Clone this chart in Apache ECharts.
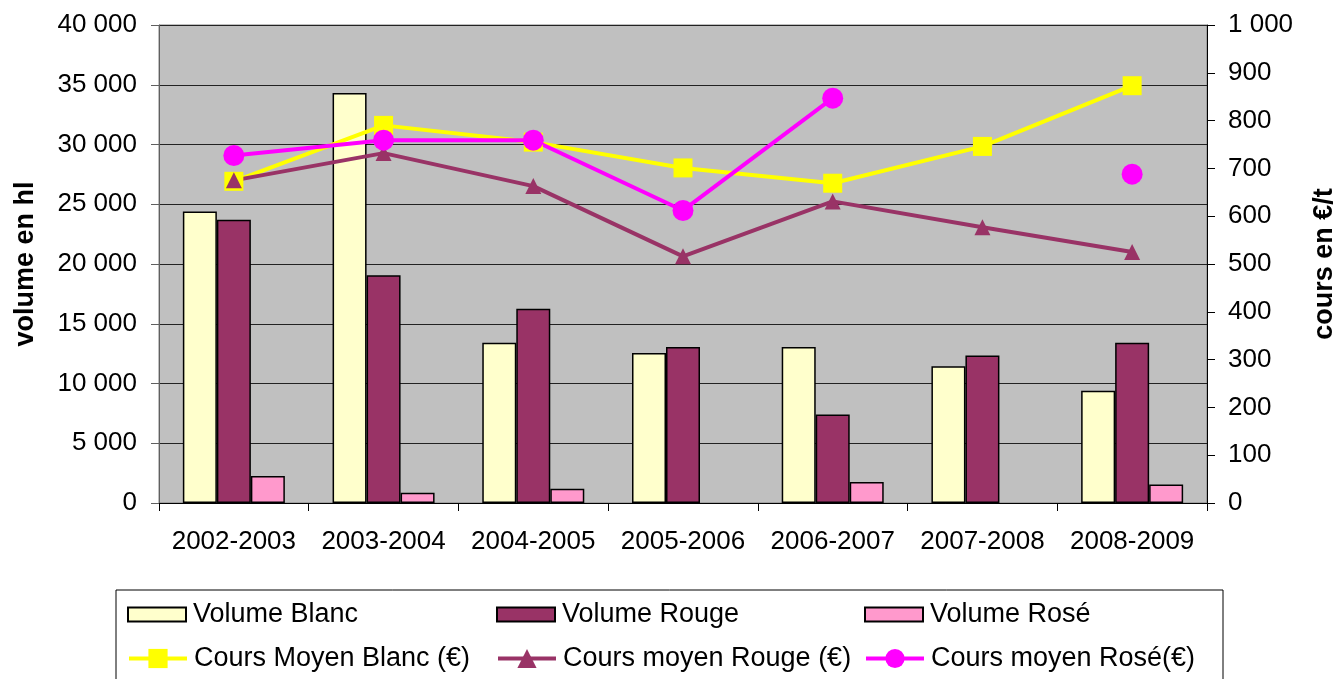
<!DOCTYPE html>
<html>
<head>
<meta charset="utf-8">
<script src="https://cdn.jsdelivr.net/npm/echarts@6/dist/echarts.min.js"></script>
<style>
html, body { margin: 0; padding: 0; background: #fff; }
#chart { width: 1336px; height: 679px; }
</style>
</head>
<body>
<div id="chart"></div>
<script>
var campagnes = ['2002-2003', '2003-2004', '2004-2005', '2005-2006', '2006-2007', '2007-2008', '2008-2009'];

// volumes en hl
var volumeBlanc = [24400, 34300, 13400, 12550, 13050, 11450, 9400];
var volumeRouge = [23700, 19050, 16250, 13050, 7400, 12350, 13400];
var volumeRose = [2250, 850, 1200, null, 1750, null, 1550];

// cours moyens en euros/t
var coursBlanc = [673, 790, 755, 701, 669, 746, 873];
var coursRouge = [675, 732, 663, 516, 631, 577, 525];
var coursRose = [727, 759, 759, 612, 847, null, 688];

var fontFamily = "'Liberation Sans', Arial, sans-serif";

function formatNumber(v) {
    return String(v).replace(/\B(?=(\d{3})+(?!\d))/g, ' ');
}

function barSeries(name, data, color) {
    return {
        name: name,
        type: 'bar',
        data: data,
        barWidth: 34,
        barGap: '0%',
        itemStyle: { color: color, borderColor: '#000', borderWidth: 1.5 }
    };
}

function lineSeries(name, data, color, symbol, size) {
    return {
        name: name,
        type: 'line',
        yAxisIndex: 1,
        data: data,
        symbol: symbol,
        symbolSize: size,
        showAllSymbol: true,
        lineStyle: { color: color, width: 4 },
        itemStyle: { color: color },
        z: 3
    };
}

function legendItem(name, left, top, isBar) {
    var item = {
        data: [name],
        left: left,
        top: top,
        itemWidth: 58,
        itemHeight: isBar ? 14 : 24,
        selectedMode: false,
        textStyle: { fontFamily: fontFamily, fontSize: 27, color: '#000', padding: [0, 0, 0, 2] }
    };
    if (isBar) {
        item.icon = 'rect';
        item.itemStyle = { borderColor: '#000', borderWidth: 2 };
    } else {
        item.lineStyle = { width: 4 };
    }
    return item;
}

var chart = echarts.init(document.getElementById('chart'));

var option = {
    backgroundColor: '#fff',
    animation: false,
    grid: {
        left: 159, right: 129, top: 25, bottom: 176,
        show: true,
        backgroundColor: '#C0C0C0',
        borderColor: '#808080',
        borderWidth: 1,
        outerBoundsMode: 'none'
    },
    legend: [
        legendItem('Volume Blanc', 122, 596, true),
        legendItem('Volume Rouge', 491, 596, true),
        legendItem('Volume Rosé', 859, 596, true),
        legendItem('Cours Moyen Blanc (€)', 122, 640, false),
        legendItem('Cours moyen Rouge (€)', 491, 640, false),
        legendItem('Cours moyen Rosé(€)', 859, 640, false)
    ],
    graphic: [{
        type: 'rect',
        shape: { x: 116, y: 590, width: 1107, height: 100 },
        style: { fill: '#fff', stroke: '#000', lineWidth: 1 },
        z: -1
    }],
    xAxis: {
        type: 'category',
        data: campagnes,
        axisLine: { lineStyle: { color: '#000', width: 1 } },
        axisTick: { show: true, interval: 0, length: 8, lineStyle: { color: '#000' } },
        axisLabel: { interval: 0, fontFamily: fontFamily, fontSize: 26, color: '#000', margin: 26 }
    },
    yAxis: [
        {
            type: 'value',
            min: 0, max: 40000, interval: 5000,
            name: 'volume en hl',
            nameLocation: 'middle',
            nameRotate: 90,
            nameGap: 120,
            nameTextStyle: { fontFamily: fontFamily, fontSize: 27, fontWeight: 'bold', color: '#000' },
            axisLine: { show: true, lineStyle: { color: '#606060' } },
            axisTick: { show: true, length: 8, lineStyle: { color: '#606060' } },
            axisLabel: { fontFamily: fontFamily, fontSize: 26, color: '#000', margin: 22, formatter: formatNumber },
            splitLine: { lineStyle: { color: '#222', width: 1 } }
        },
        {
            type: 'value',
            position: 'right',
            min: 0, max: 1000, interval: 100,
            name: 'cours en €/t',
            nameLocation: 'middle',
            nameRotate: 90,
            nameGap: 104,
            nameTextStyle: { fontFamily: fontFamily, fontSize: 27, fontWeight: 'bold', color: '#000' },
            axisLine: { show: true, lineStyle: { color: '#000' } },
            axisTick: { show: true, length: 8, lineStyle: { color: '#000' } },
            axisLabel: { fontFamily: fontFamily, fontSize: 26, color: '#000', margin: 21, formatter: formatNumber },
            splitLine: { show: false }
        }
    ],
    series: [
        barSeries('Volume Blanc', volumeBlanc, '#FFFFCC'),
        barSeries('Volume Rouge', volumeRouge, '#993366'),
        barSeries('Volume Rosé', volumeRose, '#FF99CC'),
        lineSeries('Cours Moyen Blanc (€)', coursBlanc, '#FFFF00', 'rect', 19),
        lineSeries('Cours moyen Rouge (€)', coursRouge, '#993366', 'triangle', 16),
        lineSeries('Cours moyen Rosé(€)', coursRose, '#FF00FF', 'circle', 21)
    ]
};

chart.setOption(option);
</script>
</body>
</html>
